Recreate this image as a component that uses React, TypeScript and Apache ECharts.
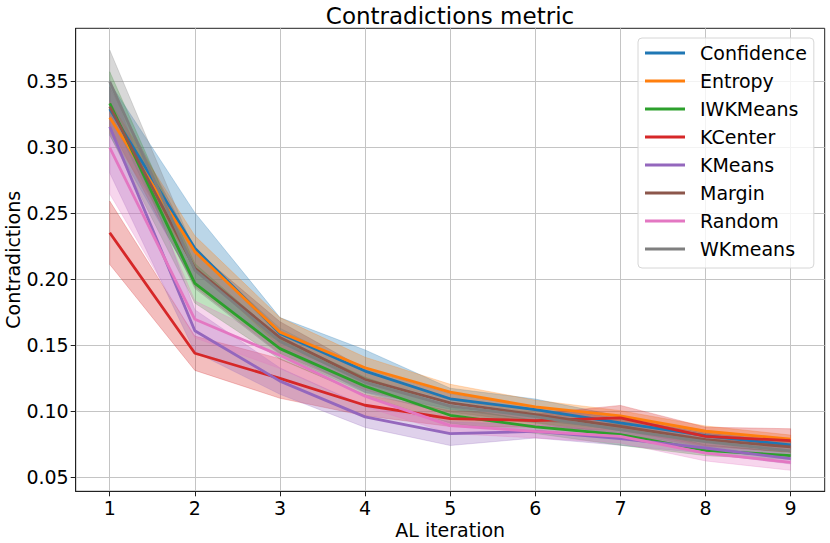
import React, { useEffect, useRef } from "react";
import * as echarts from "echarts";

const iterations = [1, 2, 3, 4, 5, 6, 7, 8, 9];
const xTicks = [1, 2, 3, 4, 5, 6, 7, 8, 9];
const yTicks = [0.05, 0.1, 0.15, 0.2, 0.25, 0.3, 0.35];

const methodNames = ["Confidence", "Entropy", "IWKMeans", "KCenter", "KMeans", "Margin", "Random", "WKmeans"];
const methodColors = ["#1f77b4", "#ff7f0e", "#2ca02c", "#d62728", "#9467bd", "#8c564b", "#e377c2", "#7f7f7f"];

const confidenceMean = [0.329, 0.2235, 0.159, 0.1305, 0.1095, 0.1013, 0.0912, 0.0815, 0.0745];
const confidenceStd = [0.02, 0.027, 0.012, 0.016, 0.008, 0.008, 0.005, 0.004, 0.004];
const entropyMean = [0.3227, 0.221, 0.16, 0.133, 0.1145, 0.1034, 0.0965, 0.0849, 0.079];
const entropyStd = [0.012, 0.012, 0.011, 0.008, 0.006, 0.005, 0.004, 0.004, 0.003];
const iwkmeansMean = [0.3333, 0.197, 0.1475, 0.119, 0.097, 0.0882, 0.0823, 0.0704, 0.0664];
const iwkmeansStd = [0.024, 0.015, 0.008, 0.007, 0.006, 0.005, 0.008, 0.004, 0.003];
const kcenterMean = [0.2353, 0.144, 0.1249, 0.1046, 0.0945, 0.093, 0.095, 0.081, 0.0778];
const kcenterStd = [0.024, 0.013, 0.015, 0.008, 0.006, 0.005, 0.0095, 0.007, 0.009];
const kmeansMean = [0.3156, 0.161, 0.1229, 0.0958, 0.0831, 0.0848, 0.0793, 0.0722, 0.0641];
const kmeansStd = [0.035, 0.016, 0.01, 0.008, 0.009, 0.005, 0.005, 0.004, 0.004];
const marginMean = [0.3308, 0.2083, 0.1559, 0.1241, 0.1064, 0.0975, 0.0886, 0.0785, 0.073];
const marginStd = [0.015, 0.014, 0.012, 0.008, 0.007, 0.006, 0.006, 0.005, 0.004];
const randomMean = [0.2997, 0.1697, 0.1424, 0.1115, 0.0892, 0.0848, 0.081, 0.0684, 0.0613];
const randomStd = [0.035, 0.014, 0.01, 0.008, 0.006, 0.005, 0.005, 0.006, 0.006];
const wkmeansMean = [0.3497, 0.207, 0.153, 0.122, 0.104, 0.096, 0.086, 0.077, 0.07];
const wkmeansStd = [0.024, 0.014, 0.01, 0.008, 0.006, 0.005, 0.005, 0.004, 0.004];

const means = [confidenceMean, entropyMean, iwkmeansMean, kcenterMean, kmeansMean, marginMean, randomMean, wkmeansMean];
const stds = [confidenceStd, entropyStd, iwkmeansStd, kcenterStd, kmeansStd, marginStd, randomStd, wkmeansStd];

const FONT = "DejaVu Sans";

export default function App() {
  const ref = useRef<HTMLDivElement>(null);
  useEffect(() => {
    const chart = echarts.init(ref.current!, null, { renderer: "svg" });
    const series: any[] = [];
    methodNames.forEach((name, i) => {
      const color = methodColors[i];
      const mean = means[i];
      const std = stds[i];
      series.push({
        type: "line",
        name,
        data: iterations.map((x, j) => [x, mean[j]]),
        symbol: "none",
        showSymbol: false,
        lineStyle: { color, width: 2.8 },
        itemStyle: { color },
        silent: true,
      });
      const bandData = iterations.map((x, j) => [x, mean[j] - std[j], mean[j] + std[j]]);
      series.push({
        type: "custom",
        name: name + " band",
        data: bandData,
        encode: { x: 0, y: [1, 2] },
        silent: true,
        renderItem: (params: any, api: any) => {
          if (params.dataIndex !== 0) return null;
          const pts: number[][] = [];
          for (let j = 0; j < bandData.length; j++) pts.push(api.coord([bandData[j][0], bandData[j][2]]));
          for (let j = bandData.length - 1; j >= 0; j--) pts.push(api.coord([bandData[j][0], bandData[j][1]]));
          return {
            type: "polygon",
            shape: { points: pts },
            style: { fill: color, stroke: color, lineWidth: 0.8, opacity: 0.3 },
          };
        },
      });
    });

    chart.setOption({
      animation: false,
      title: {
        text: "Contradictions metric",
        left: 450,
        top: 4,
        padding: 0,
        textAlign: "center",
        textStyle: { fontFamily: FONT, fontSize: 23, fontWeight: "normal", color: "#000", lineHeight: 23 },
      },
      legend: {
        data: methodNames,
        orient: "vertical",
        left: 638,
        top: 38,
        padding: [5, 7, 9, 7],
        itemWidth: 40,
        itemHeight: 3,
        itemGap: 8,
        icon: "rect",
        borderColor: "#d6d6d6",
        borderWidth: 1,
        borderRadius: 4,
        backgroundColor: "rgba(255,255,255,0.8)",
        textStyle: { fontFamily: FONT, fontSize: 19, color: "#000", lineHeight: 20, padding: [0, 0, 0, 10] },
      },
      grid: {
        left: 75.7,
        right: 5.3,
        top: 28.3,
        bottom: 51.7,
        outerBoundsMode: "none",
        containLabel: false,
        show: true,
        borderColor: "#222",
        borderWidth: 1,
        backgroundColor: "transparent",
      },
      xAxis: {
        type: "value",
        min: 0.6,
        max: 9.4,
        name: "AL iteration",
        nameLocation: "middle",
        nameGap: 29,
        nameMoveOverlap: false,
        nameTextStyle: { fontFamily: FONT, fontSize: 19, color: "#000", lineHeight: 19 },
        axisLine: { show: true, lineStyle: { color: "#222", width: 1 } },
        axisTick: { show: true, length: 5, lineStyle: { color: "#222", width: 1 }, customValues: xTicks },
        axisLabel: { fontFamily: FONT, fontSize: 19, color: "#000", margin: 7, lineHeight: 19, customValues: xTicks, formatter: (v: number) => String(v) },
        splitLine: { show: true, lineStyle: { color: "#c4c4c4", width: 1 } },
      },
      yAxis: {
        type: "value",
        min: 0.0394,
        max: 0.3902,
        name: "Contradictions",
        nameLocation: "middle",
        nameGap: 53,
        nameMoveOverlap: false,
        nameTextStyle: { fontFamily: FONT, fontSize: 19, color: "#000", lineHeight: 19 },
        axisLine: { show: true, lineStyle: { color: "#222", width: 1 } },
        axisTick: { show: true, length: 5, lineStyle: { color: "#222", width: 1 }, customValues: yTicks },
        axisLabel: { fontFamily: FONT, fontSize: 19, color: "#000", margin: 7, customValues: yTicks, formatter: (v: number) => v.toFixed(2) },
        splitLine: { show: true, lineStyle: { color: "#c4c4c4", width: 1 } },
      },
      series,
    });
    return () => chart.dispose();
  }, []);
  return <div ref={ref} style={{ position: "fixed", left: 0, top: 0, width: 830, height: 543, background: "#fff" }} />;
}
